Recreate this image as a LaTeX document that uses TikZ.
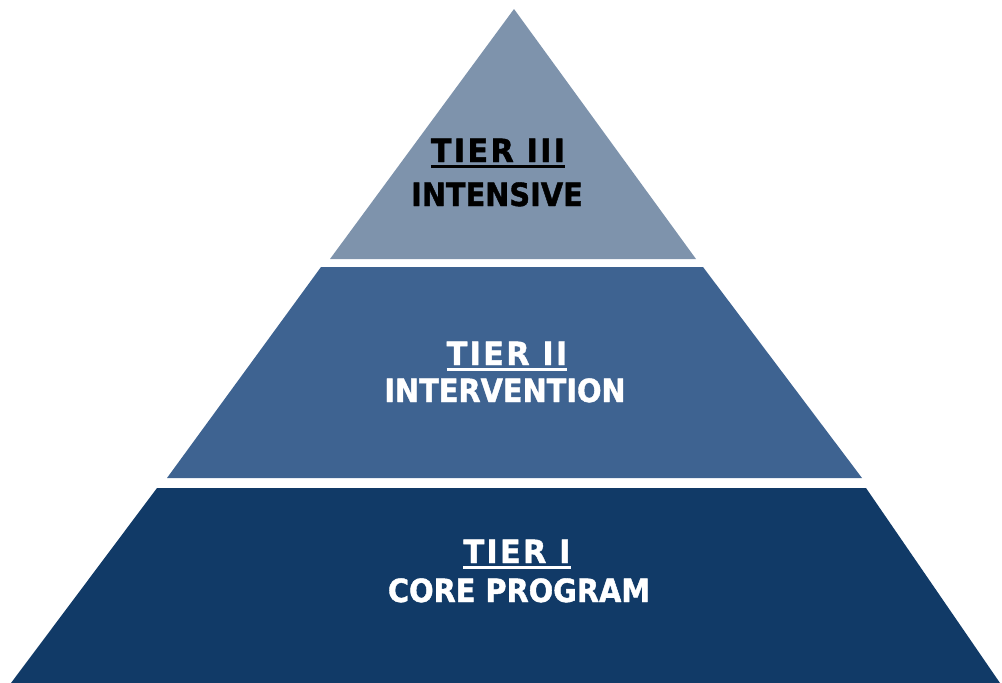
\documentclass[tikz,border=0pt]{standalone}
\usepackage{fontspec}
\newfontfamily\tierfont[FakeStretch=0.9,FakeBold=1.3]{DejaVu Sans Bold}
\newfontfamily\tierheadfont[FakeStretch=0.95,FakeBold=1.3,LetterSpace=7]{DejaVu Sans Bold}
\definecolor{tierthree}{RGB}{126,147,172}
\definecolor{tiertwo}{RGB}{62,99,145}
\definecolor{tierone}{RGB}{17,58,103}
\newcommand{\tierul}[1]{\vtop{\hbox{#1}\kern3pt\hrule height 3.2pt}}
\begin{document}
\begin{tikzpicture}[x=1pt,y=-1pt,
  tierlabel/.style={anchor=base,inner sep=0pt,font=\tierfont\fontsize{32}{32}\selectfont},
  tierhead/.style={anchor=base,inner sep=0pt,font=\tierheadfont\fontsize{32}{32}\selectfont}]
\useasboundingbox (0,0) rectangle (1002,683);
% tiers
\fill[tierthree] (514,9) -- (696,259) -- (330,259) -- cycle;
\fill[tiertwo] (321,267) -- (703,267) -- (862,478) -- (167,478) -- cycle;
\fill[tierone] (157,488) -- (866,488) -- (1000,683) -- (11,683) -- cycle;
% labels
\node[tierhead,text=black] (t3a) at (498,162) {\tierul{TIER III}};
\node[tierlabel,text=black] (t3b) at (497,206) {INTENSIVE};
\node[tierhead,text=white] (t2a) at (507,365) {\tierul{TIER II}};
\node[tierlabel,text=white] (t2b) at (505,402) {INTERVENTION};
\node[tierhead,text=white] (t1a) at (517,563) {\tierul{TIER I}};
\node[tierlabel,text=white] (t1b) at (519,602) {CORE PROGRAM};
\end{tikzpicture}
\end{document}
